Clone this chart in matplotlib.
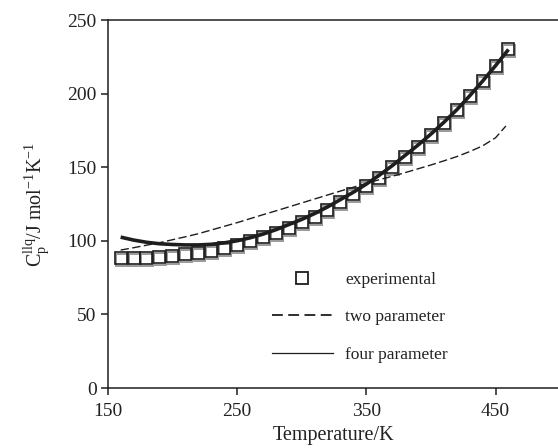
import matplotlib
matplotlib.use("Agg")
import matplotlib.pyplot as plt
import matplotlib.transforms as mtransforms
from matplotlib.lines import Line2D

plt.rcParams["font.family"] = ["Liberation Serif", "DejaVu Serif"]
plt.rcParams["mathtext.fontset"] = "custom"
plt.rcParams["mathtext.rm"] = "Liberation Serif"
plt.rcParams["mathtext.it"] = "Liberation Serif:italic"

# experimental heat capacity
temp_exp = [160, 170, 180, 190, 200, 210, 220, 230, 240, 250, 260, 270, 280, 290, 300,
            310, 320, 330, 340, 350, 360, 370, 380, 390, 400, 410, 420, 430, 440, 450, 460]
cp_exp = [88.5, 88.5, 88.5, 89.0, 90.0, 91.0, 92.0, 93.0, 95.0, 97.0, 100.0, 102.5, 105.5, 109.0, 113.0,
          116.5, 121.0, 126.5, 132.0, 137.0, 143.0, 150.0, 157.0, 164.0, 172.0, 180.0, 189.0, 198.5, 208.5, 219.0, 230.5]

# two parameter fit
temp_two = [160, 170, 180, 190, 200, 210, 220, 230, 240, 250, 260, 270, 280, 290, 300, 310,
            320, 330, 340, 350, 360, 370, 380, 390, 400, 410, 420, 430, 440, 450, 458]
cp_two = [93.7, 95.3, 97.0, 98.7, 100.7, 102.7, 104.8, 107.3, 109.8, 112.3, 115.0, 117.7, 120.3, 123.0, 125.7, 128.4,
          131.1, 133.8, 136.4, 139.0, 141.5, 143.8, 146.3, 148.9, 151.5, 154.3, 157.2, 160.6, 164.5, 170.0, 178.0]

# four parameter fit
temp_four = [160, 170, 180, 190, 200, 210, 220, 230, 240, 250, 260, 270, 280, 290, 300, 310,
             320, 330, 340, 350, 360, 370, 380, 390, 400, 410, 420, 430, 440, 450, 460]
cp_four = [102.5, 100.5, 99.0, 98.0, 97.5, 97.2, 97.2, 97.6, 98.6, 100.0, 102.0, 104.5, 107.5, 111.0, 114.5, 118.5,
           123.0, 128.0, 133.0, 138.5, 144.5, 151.0, 158.0, 165.0, 172.5, 180.5, 189.0, 198.5, 208.5, 219.0, 230.0]

ink = "#1e1e1e"

fig = plt.figure(figsize=(5.58, 4.48), dpi=100)
ax = fig.add_axes([107.7 / 558, 60 / 448, 452.5 / 558, 368 / 448])

# grey shadow under the squares
shadow = mtransforms.offset_copy(ax.transData, fig=fig, x=1.0, y=-2.0, units="dots")
ax.plot(temp_exp, cp_exp, linestyle="none", marker="s", markersize=8.4,
        mfc="none", mec="#9a9a9a", mew=1.4, transform=shadow, zorder=2)
ax.plot(temp_exp, cp_exp, linestyle="none", marker="s", markersize=8.4,
        mfc="none", mec=ink, mew=1.2, zorder=3)

ax.plot(temp_two, cp_two, color=ink, lw=1.0, dashes=(6, 2.5), zorder=4)
ax.plot(temp_four, cp_four, color=ink, lw=2.6, zorder=5, solid_capstyle="butt")

ax.set_xlim(150, 500)
ax.set_ylim(0, 250)
ax.set_xticks([150, 250, 350, 450])
ax.set_yticks([0, 50, 100, 150, 200, 250])
ax.spines["right"].set_visible(False)
for s in ["left", "bottom", "top"]:
    ax.spines[s].set_linewidth(1.1)
    ax.spines[s].set_color(ink)
ax.tick_params(direction="out", length=5, width=1.1, color=ink, labelsize=14,
               labelcolor="#222222")
ax.tick_params(axis="x", pad=6)
ax.tick_params(axis="y", pad=3)

ax.set_xlabel("Temperature/K", fontsize=14.5, color="#222222", labelpad=4)
ax.set_ylabel(r"$\mathregular{C_p^{llq}/J\ mol^{-1}K^{-1}}$", fontsize=14.5,
              color="#222222", labelpad=12)

handles = [
    Line2D([], [], linestyle="none", marker="s", markersize=8, mfc="none", mec=ink, mew=1.3),
    Line2D([], [], color=ink, lw=1.3, dashes=(6, 3)),
    Line2D([], [], color=ink, lw=0.9),
]
labels = ["experimental", "two parameter", "four parameter"]
ax.legend(handles, labels, loc="upper left", bbox_to_anchor=(272 / 558, 1 - 272 / 448),
          bbox_transform=fig.transFigure, frameon=False, fontsize=12.5,
          handlelength=3.5, handletextpad=0.7, labelspacing=1.22,
          borderpad=0, borderaxespad=0, labelcolor="#222222")

fig.savefig("out.png", dpi=100)
